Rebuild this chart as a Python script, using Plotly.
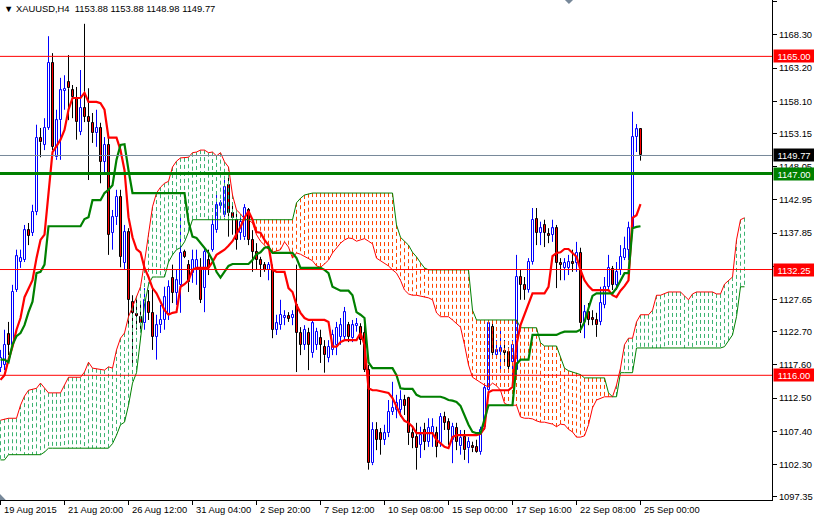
import plotly.graph_objects as go

# ---------------- data ----------------
symbol_text = "XAUUSD,H4"
last_ohlc = [1153.88, 1153.88, 1148.98, 1149.77]

date_labels = ["19 Aug 2015", "21 Aug 20:00", "26 Aug 12:00", "31 Aug 04:00", "2 Sep 20:00",
               "7 Sep 12:00", "10 Sep 08:00", "15 Sep 00:00", "17 Sep 16:00", "22 Sep 08:00",
               "25 Sep 00:00"]
date_label_bars = [0, 16, 32, 48, 64, 80, 96, 112, 128, 144, 160]

price_ticks = [1173.40, 1168.30, 1163.20, 1158.10, 1153.15, 1148.05, 1142.95, 1137.85,
               1132.75, 1127.65, 1122.70, 1117.60, 1112.50, 1107.40, 1102.30, 1097.35]

opens = [1117.1,1117.6,1122.3,1120.7,1129.1,1133.4,1133.7,1138.3,1137.9,1141.1,
         1152.5,1151.4,1154.0,1164.0,1149.5,1155.2,1159.7,1161.1,1159.8,1158.6,
         1153.4,1157.1,1155.7,1154.8,1153.2,1154.0,1148.8,1151.4,1137.9,1140.3,
         1143.4,1133.3,1138.0,1127.3,1125.4,1125.0,1124.0,1127.3,1125.6,1121.9,
         1123.7,1124.5,1125.3,1131.0,1128.7,1129.9,1135.0,1133.0,1131.7,1132.2,
         1132.5,1129.4,1133.7,1135.3,1138.3,1142.0,1140.6,1145.2,1140.9,1139.9,
         1137.9,1137.2,1141.4,1136.8,1135.0,1133.7,1133.0,1132.2,1132.2,1123.0,
         1123.7,1124.8,1125.1,1124.8,1126.8,1122.5,1120.7,1122.5,1119.4,1120.7,
         1121.7,1120.4,1118.7,1119.9,1120.7,1121.9,1121.9,1123.7,1121.7,1123.6,
         1123.4,1122.5,1116.8,1102.5,1107.6,1107.1,1106.1,1107.1,1110.4,1110.7,
         1110.7,1112.2,1112.5,1107.1,1106.5,1105.3,1107.6,1105.8,1107.1,1107.1,
         1105.6,1109.6,1108.8,1106.1,1107.9,1105.1,1106.5,1104.8,1105.1,1105.0,
         1104.2,1108.1,1113.7,1123.4,1119.1,1119.6,1119.8,1119.6,1118.0,1116.8,
         1131.1,1129.9,1129.1,1133.4,1140.0,1137.9,1139.1,1137.7,1137.6,1138.6,
         1133.3,1132.5,1132.5,1133.4,1133.3,1134.8,1124.2,1125.7,1124.8,1124.5,
         1124.2,1126.8,1129.6,1132.3,1129.9,1132.2,1134.0,1135.3,1138.6,1152.6,
         1153.88]
highs = [1119.9,1123.0,1124.2,1129.9,1135.3,1135.3,1139.1,1139.4,1142.2,1154.5,
         1154.0,1155.5,1168.1,1165.5,1156.8,1161.7,1162.1,1165.2,1160.6,1160.3,
         1162.9,1170.0,1160.1,1156.3,1156.8,1154.8,1152.6,1152.6,1141.4,1144.5,
         1144.5,1139.1,1138.6,1128.3,1128.0,1127.1,1129.4,1129.1,1129.6,1125.3,
         1126.8,1129.6,1130.6,1133.0,1132.2,1140.6,1135.3,1133.7,1135.3,1135.3,
         1134.0,1135.7,1135.3,1140.6,1143.7,1142.9,1146.0,1147.1,1142.2,1141.4,
         1140.6,1142.3,1141.7,1138.3,1136.3,1134.2,1133.4,1133.4,1133.0,1125.3,
         1127.6,1126.0,1125.7,1126.0,1133.0,1123.4,1123.7,1123.3,1124.5,1123.3,
         1123.0,1121.4,1121.4,1123.0,1124.2,1124.8,1126.5,1124.2,1124.5,1124.8,
         1124.0,1123.7,1117.6,1108.8,1108.8,1107.9,1108.4,1112.2,1115.0,1113.0,
         1113.7,1113.0,1112.7,1108.1,1108.7,1108.1,1108.7,1109.4,1109.4,1108.1,
         1110.2,1110.4,1109.4,1108.7,1108.7,1107.6,1107.6,1106.5,1105.8,1106.1,
         1108.1,1114.5,1124.5,1124.0,1121.4,1123.0,1121.4,1120.3,1121.4,1134.5,
         1132.2,1131.1,1134.0,1141.7,1141.7,1139.6,1139.9,1138.6,1139.9,1139.1,
         1134.0,1134.0,1134.5,1135.3,1136.5,1135.6,1126.8,1127.1,1126.0,1125.6,
         1129.6,1131.1,1134.5,1132.8,1133.4,1136.0,1137.3,1139.6,1156.5,1154.6,
         1153.88]
lows = [1116.5,1116.8,1119.1,1120.2,1128.8,1132.5,1133.4,1136.0,1137.4,1140.6,
        1149.5,1150.6,1153.7,1150.6,1149.1,1149.1,1156.8,1155.2,1155.5,1152.2,
        1152.9,1154.9,1146.0,1151.7,1151.1,1145.5,1146.8,1134.5,1135.3,1139.1,
        1132.6,1132.2,1123.7,1117.9,1123.0,1123.0,1123.0,1124.5,1119.9,1118.4,
        1122.5,1123.0,1124.5,1127.1,1126.8,1125.6,1134.0,1128.8,1130.2,1129.9,
        1127.1,1125.7,1131.4,1135.0,1137.9,1141.1,1140.3,1137.3,1137.6,1135.3,
        1136.8,1136.8,1136.0,1131.9,1132.2,1131.1,1131.9,1130.6,1121.7,1122.2,
        1123.0,1123.7,1124.2,1123.7,1116.5,1119.1,1119.9,1116.8,1118.7,1119.9,
        1117.9,1116.4,1118.0,1119.1,1119.1,1120.7,1121.4,1121.1,1121.1,1122.7,
        1120.7,1116.5,1101.5,1102.2,1104.5,1103.8,1105.3,1106.5,1109.9,1109.4,
        1109.6,1109.9,1105.3,1104.8,1101.5,1103.3,1104.5,1105.0,1105.0,1103.4,
        1105.0,1107.6,1105.3,1102.5,1104.5,1103.8,1103.0,1102.5,1104.2,1104.1,
        1103.8,1107.6,1113.4,1118.8,1118.7,1116.4,1117.9,1116.4,1115.7,1116.0,
        1127.6,1127.6,1128.7,1133.0,1136.0,1136.0,1135.7,1136.3,1136.5,1129.4,
        1130.6,1130.6,1131.4,1131.9,1131.9,1122.5,1121.7,1123.7,1123.7,1121.9,
        1123.7,1126.3,1129.1,1129.1,1129.1,1131.4,1133.7,1133.7,1138.3,1150.3,
        1148.98]
closes = [1118.7,1120.7,1120.7,1128.8,1134.3,1134.0,1138.3,1137.4,1141.1,1152.5,
          1151.8,1154.0,1164.0,1151.1,1155.2,1159.8,1160.0,1160.1,1158.8,1154.9,
          1157.1,1155.7,1154.9,1153.2,1154.0,1148.8,1151.4,1137.6,1140.3,1143.4,
          1134.2,1138.0,1127.6,1125.6,1125.1,1124.0,1127.6,1125.6,1121.9,1123.7,
          1124.5,1128.0,1129.6,1128.7,1130.6,1134.8,1134.2,1130.3,1133.7,1133.7,
          1127.6,1135.0,1132.5,1139.1,1142.2,1142.5,1144.9,1140.9,1140.2,1136.8,
          1139.6,1141.7,1136.8,1135.0,1133.7,1133.0,1132.2,1133.0,1123.0,1124.0,
          1125.3,1125.1,1124.7,1125.3,1122.5,1120.7,1123.0,1120.7,1124.0,1122.7,
          1120.7,1119.1,1120.4,1122.2,1123.3,1123.7,1125.7,1121.9,1123.7,1123.9,
          1121.4,1116.8,1102.5,1107.6,1106.1,1106.1,1107.1,1110.4,1111.0,1111.7,
          1112.2,1111.3,1107.1,1106.4,1104.8,1106.8,1105.8,1107.9,1108.1,1105.0,
          1109.6,1108.7,1107.6,1108.1,1105.8,1106.4,1104.5,1105.8,1104.8,1104.2,
          1107.6,1114.0,1124.0,1119.4,1119.9,1120.2,1119.5,1117.3,1120.7,1131.1,
          1129.9,1129.1,1133.4,1139.9,1137.9,1138.6,1137.9,1137.4,1138.6,1133.3,
          1133.0,1133.3,1133.4,1133.1,1134.8,1124.0,1125.7,1124.5,1124.5,1123.7,
          1127.1,1129.6,1132.5,1129.9,1131.9,1134.2,1135.4,1138.6,1152.6,1153.8,
          1149.77]

tenkan = [1115.3,1116.0,1118.4,1120.4,1123.0,1124.8,1128.0,1129.4,1130.6,1134.0,
          1136.8,1137.6,1143.7,1150.3,1151.2,1152.2,1153.7,1156.8,1158.6,1158.6,
          1158.6,1159.4,1158.0,1158.0,1158.0,1157.8,1156.8,1152.5,1152.5,1152.5,
          1150.6,1147.5,1140.3,1137.2,1135.4,1134.9,1132.5,1131.1,1129.4,1128.6,
          1127.3,1126.0,1125.3,1125.6,1125.7,1129.6,1130.0,1130.6,1132.2,1132.5,
          1132.5,1132.5,1132.5,1133.4,1134.5,1134.9,1135.3,1135.9,1136.6,1137.7,
          1138.8,1140.2,1141.2,1139.9,1138.0,1137.9,1136.8,1136.0,1132.2,1131.9,
          1131.9,1131.9,1129.4,1128.8,1126.8,1125.6,1124.8,1124.5,1124.5,1124.5,
          1124.5,1124.5,1124.2,1120.4,1120.4,1121.1,1121.4,1121.4,1121.4,1121.4,
          1122.5,1120.7,1114.0,1113.7,1113.7,1113.6,1113.4,1113.3,1112.5,1111.1,
          1109.9,1109.0,1108.7,1108.1,1107.1,1107.1,1107.1,1107.1,1107.1,1106.1,
          1105.6,1105.0,1104.8,1106.5,1106.8,1106.8,1106.8,1106.8,1106.8,1106.8,
          1107.0,1107.9,1113.4,1113.7,1113.7,1113.7,1113.7,1113.7,1114.2,1120.7,
          1123.7,1125.3,1126.8,1128.6,1128.6,1128.6,1128.6,1129.6,1134.3,1134.8,
          1134.9,1135.4,1135.4,1134.8,1134.2,1132.2,1130.6,1129.7,1129.1,1129.1,
          1129.1,1129.1,1129.1,1128.3,1128.0,1129.0,1129.7,1130.6,1140.2,1140.6,
          1142.3]
kijun = [1118.4,1118.4,1118.0,1120.7,1122.0,1122.5,1123.7,1125.7,1127.3,1131.7,
         1131.9,1133.0,1138.9,1138.9,1138.9,1138.9,1138.9,1138.9,1138.9,1138.9,
         1138.9,1140.0,1140.3,1142.9,1142.9,1142.9,1144.0,1144.5,1145.2,1149.1,
         1151.4,1151.5,1147.5,1144.0,1144.0,1144.0,1144.0,1144.0,1144.0,1144.0,
         1144.0,1144.0,1144.0,1144.0,1144.0,1144.0,1144.0,1139.6,1137.3,1137.1,
         1136.3,1135.6,1134.8,1133.7,1131.9,1131.0,1132.0,1132.8,1133.1,1133.1,
         1133.1,1133.1,1133.1,1133.7,1134.6,1134.9,1135.6,1135.7,1134.8,1134.8,
         1134.8,1134.8,1134.8,1134.8,1134.0,1132.5,1132.5,1132.5,1132.5,1132.5,
         1132.5,1132.2,1131.7,1129.6,1129.3,1129.0,1129.0,1129.0,1128.3,1125.7,
         1125.3,1124.8,1118.0,1117.1,1117.1,1117.1,1117.1,1117.1,1117.1,1116.0,
         1114.0,1113.9,1113.9,1113.9,1113.0,1112.7,1112.7,1112.7,1112.7,1112.7,
         1112.7,1112.5,1112.2,1112.1,1111.9,1111.3,1109.9,1108.4,1107.3,1107.1,
         1107.1,1109.4,1111.4,1111.4,1111.4,1111.4,1111.4,1111.4,1111.4,1117.7,
         1118.4,1118.4,1118.4,1122.2,1122.2,1122.2,1122.2,1122.2,1122.2,1122.2,
         1122.5,1122.7,1122.7,1122.7,1122.7,1123.0,1124.2,1126.3,1128.2,1128.6,
         1128.6,1128.6,1128.6,1128.6,1129.4,1130.6,1131.7,1131.7,1138.6,1138.8,
         1138.9]
span_a = [1109.1,1109.3,1109.4,1109.4,1109.4,1111.4,1112.8,1113.7,1113.9,1114.0,
          1114.8,1114.0,1113.3,1113.3,1113.3,1113.3,1114.5,1115.7,1115.7,1115.7,
          1115.7,1116.5,1118.0,1117.1,1117.0,1116.8,1116.8,1117.3,1117.1,1119.9,
          1121.7,1122.5,1125.0,1126.5,1128.2,1129.6,1133.4,1137.9,1141.9,1144.0,
          1144.9,1145.5,1145.8,1148.0,1148.9,1149.4,1149.4,1149.5,1150.2,1150.3,
          1150.6,1150.6,1150.2,1150.3,1149.7,1150.2,1148.8,1148.0,1143.7,1141.4,
          1140.8,1140.0,1139.9,1139.4,1137.6,1136.6,1136.0,1135.3,1134.9,1135.1,
          1135.3,1136.5,1135.7,1134.0,1134.8,1134.6,1134.3,1133.9,1133.6,1132.8,
          1132.6,1133.1,1133.7,1134.8,1135.6,1136.3,1136.8,1137.1,1137.0,1136.6,
          1136.8,1137.0,1136.6,1136.2,1134.0,1133.6,1133.3,1132.8,1132.2,1131.7,
          1130.6,1129.1,1128.5,1128.3,1128.3,1128.2,1128.0,1127.9,1127.6,1125.6,
          1125.0,1125.0,1125.0,1124.5,1124.0,1123.4,1120.7,1117.6,1115.7,1115.3,
          1114.8,1114.5,1114.2,1114.8,1114.4,1113.7,1111.7,1111.4,1111.4,1111.4,
          1109.6,1109.4,1109.4,1109.3,1109.0,1108.8,1108.8,1108.7,1108.5,1108.1,
          1108.5,1108.4,1107.7,1107.3,1106.5,1106.5,1106.7,1108.4,1111.0,1112.2,
          1112.5,1112.7,1112.7,1112.7,1114.5,1117.1,1120.7,1121.7,1121.7,1124.2,
          1125.3,1125.3,1125.3,1126.0,1128.3,1128.3,1128.6,1128.8,1128.8,1128.8,
          1128.8,1128.2,1127.6,1128.5,1128.8,1128.8,1128.8,1128.8,1128.8,1128.5,
          1128.5,1130.0,1130.6,1131.1,1136.8,1139.9,1140.2]
span_b = [1103.0,1103.0,1103.8,1103.8,1103.8,1103.8,1103.8,1103.8,1103.8,1103.8,
          1103.8,1104.2,1104.8,1104.8,1104.8,1104.8,1104.8,1104.8,1104.8,1104.8,
          1104.8,1104.8,1104.8,1104.8,1104.8,1104.8,1104.8,1104.8,1105.5,1106.8,
          1108.4,1108.8,1111.4,1114.8,1116.4,1121.4,1126.8,1129.9,1131.1,1131.1,
          1131.1,1131.1,1133.4,1134.5,1135.3,1135.6,1136.5,1138.0,1139.9,1139.9,
          1139.9,1139.9,1139.9,1139.9,1139.9,1139.9,1139.9,1139.9,1139.9,1139.9,
          1139.9,1139.9,1139.9,1139.9,1139.9,1139.9,1139.9,1139.9,1139.9,1139.9,
          1139.9,1139.9,1139.9,1139.9,1142.5,1143.2,1143.7,1143.9,1144.0,1144.0,
          1144.0,1144.0,1144.0,1144.0,1144.0,1144.0,1144.0,1144.0,1144.0,1144.0,
          1144.0,1144.0,1144.0,1144.0,1144.0,1144.0,1144.0,1144.0,1144.0,1139.1,
          1137.2,1136.6,1136.0,1134.9,1134.2,1133.3,1132.5,1132.2,1132.2,1132.2,
          1132.2,1132.2,1132.2,1132.2,1132.2,1132.2,1132.2,1132.2,1126.0,1124.5,
          1124.5,1124.5,1124.5,1124.5,1124.5,1124.5,1124.5,1124.5,1124.5,1124.5,
          1123.3,1123.3,1123.3,1123.3,1123.3,1121.0,1120.5,1120.5,1120.5,1120.5,
          1118.8,1117.1,1116.7,1116.5,1116.4,1116.1,1115.6,1115.6,1115.6,1115.6,
          1115.6,1115.6,1113.3,1112.7,1112.7,1116.4,1116.4,1116.4,1116.4,1120.2,
          1120.2,1120.2,1120.2,1120.2,1120.2,1120.2,1120.2,1120.2,1120.2,1120.2,
          1120.2,1120.2,1120.2,1120.2,1120.2,1120.2,1120.2,1120.2,1120.2,1120.2,
          1120.2,1120.4,1121.4,1122.2,1125.0,1129.6,1129.6]

red_levels = [1165.00, 1132.25, 1116.00]
green_level = 1147.00
bid_level = last_ohlc[3]

# ---------------- style ----------------
FONT = "Liberation Sans, Arial, sans-serif"
FS = 9.4
RED = "#FF0000"
GREEN = "#008000"
BLUE = "#0000FF"
HATCH_GREEN = "#3CB371"
HATCH_ORANGE = "#FF4500"

bars = list(range(len(closes)))
cloud_bars = list(range(len(span_a)))

fig = go.Figure()

# candle bodies (bars from open to close) and wicks
body_base, body_len, body_fill, body_edge = [], [], [], []
up_wx, up_wy, dn_wx, dn_wy = [], [], [], []
for i, o, h, l, c in zip(bars, opens, highs, lows, closes):
    lo_b, hi_b = min(o, c), max(o, c)
    body_base.append(lo_b)
    body_len.append(max(hi_b - lo_b, 0.02))
    up = c >= o
    body_fill.append("#FFFFFF" if up else RED)
    body_edge.append(BLUE if up else "#000000")
    seg_x = [i, i, None, i, i, None]
    seg_y = [h, hi_b, None, lo_b, l, None]
    if up:
        up_wx += seg_x; up_wy += seg_y
    else:
        dn_wx += seg_x; dn_wy += seg_y

fig.add_trace(go.Bar(x=bars, y=body_len, base=body_base, width=0.5,
                     marker=dict(color=body_fill, line=dict(color=body_edge, width=1)),
                     hoverinfo="skip", showlegend=False))
fig.add_trace(go.Scatter(x=up_wx, y=up_wy, mode="lines", line=dict(color=BLUE, width=1),
                         hoverinfo="skip", showlegend=False))
fig.add_trace(go.Scatter(x=dn_wx, y=dn_wy, mode="lines", line=dict(color="#000000", width=1),
                         hoverinfo="skip", showlegend=False))

# cloud hatch (vertical dotted columns between span A and span B)
gx, gy, ox, oy = [], [], [], []
for i, a, b in zip(cloud_bars, span_a, span_b):
    if a >= b:
        gx += [i, i, None]; gy += [a, b, None]
    else:
        ox += [i, i, None]; oy += [b, a, None]
fig.add_trace(go.Scatter(x=gx, y=gy, mode="lines", line=dict(color=HATCH_GREEN, width=1, dash="4px,3px"),
                         hoverinfo="skip", showlegend=False))
fig.add_trace(go.Scatter(x=ox, y=oy, mode="lines", line=dict(color=HATCH_ORANGE, width=1, dash="4px,3px"),
                         hoverinfo="skip", showlegend=False))

fig.add_trace(go.Scatter(x=cloud_bars, y=span_a, mode="lines", line=dict(color=RED, width=1),
                         hoverinfo="skip", showlegend=False))
fig.add_trace(go.Scatter(x=cloud_bars, y=span_b, mode="lines", line=dict(color=GREEN, width=1),
                         hoverinfo="skip", showlegend=False))
fig.add_trace(go.Scatter(x=bars, y=tenkan, mode="lines", line=dict(color=RED, width=2.2),
                         hoverinfo="skip", showlegend=False))
fig.add_trace(go.Scatter(x=bars, y=kijun, mode="lines", line=dict(color=GREEN, width=2.2),
                         hoverinfo="skip", showlegend=False))

shapes = []
for lv in red_levels:
    shapes.append(dict(type="line", xref="paper", x0=0, x1=1, yref="y", y0=lv, y1=lv,
                       line=dict(color=RED, width=1)))
shapes.append(dict(type="line", xref="paper", x0=0, x1=1, yref="y", y0=bid_level, y1=bid_level,
                   line=dict(color="#778899", width=1)))
shapes.append(dict(type="line", xref="paper", x0=0, x1=1, yref="y", y0=green_level, y1=green_level,
                   line=dict(color=GREEN, width=3)))
# small chart-shift markers
shapes.append(dict(type="path", xref="paper", yref="paper",
                   path="M 0.7318,1 L 0.7422,1 L 0.737,0.992 Z",
                   fillcolor="#778899", line=dict(width=0)))
shapes.append(dict(type="path", xref="paper", yref="paper",
                   path="M 0,0 L 0.0075,0 L 0,0.012 Z",
                   fillcolor="#778899", line=dict(width=0)))

annotations = []
annotations.append(dict(xref="paper", yref="paper", x=0, y=1, xanchor="left", yanchor="top",
                        xshift=2, yshift=-1, showarrow=False, align="left",
                        text="\u25BC " + symbol_text + "\u00a0\u00a0" + " ".join(f"{v:.2f}" for v in last_ohlc),
                        font=dict(family=FONT, size=FS, color="#000000")))
for b, lab in zip(date_label_bars, date_labels):
    annotations.append(dict(xref="x", yref="paper", x=b, y=0, xanchor="left", yanchor="top",
                            xshift=1, yshift=-2, showarrow=False, text=lab,
                            font=dict(family=FONT, size=FS, color="#000000")))


def price_box(val, bg):
    return dict(xref="paper", yref="y", x=1, y=val, xanchor="left", yanchor="middle",
                xshift=1, showarrow=False, text=f"{val:.2f}", bgcolor=bg, borderpad=0,
                width=40, height=12, align="center",
                font=dict(family=FONT, size=FS, color="#FFFFFF"))


for lv in red_levels:
    annotations.append(price_box(lv, RED))
annotations.append(price_box(green_level, GREEN))
annotations.append(price_box(bid_level, "#000000"))

fig.update_layout(
    width=814, height=516,
    margin=dict(l=0, r=42, t=0, b=16, autoexpand=False),
    paper_bgcolor="#FFFFFF", plot_bgcolor="#FFFFFF",
    showlegend=False, bargap=0,
    shapes=shapes, annotations=annotations,
    xaxis=dict(range=[-0.125, 192.875], showgrid=False, zeroline=False, automargin=False,
               showline=True, linecolor="#000000", linewidth=1,
               ticks="outside", ticklen=4, tickcolor="#000000",
               tickvals=date_label_bars, showticklabels=False, fixedrange=True),
    yaxis=dict(range=[1096.84, 1173.66], side="right", showgrid=False, zeroline=False, automargin=False,
               showline=True, linecolor="#000000", linewidth=1,
               ticks="outside", ticklen=4, tickcolor="#000000",
               tickvals=price_ticks, ticktext=[f"{v:.2f}" for v in price_ticks],
               tickfont=dict(family=FONT, size=FS, color="#000000"), fixedrange=True),
)

fig.write_html("out.html", config={"displayModeBar": False},
               post_script="document.body.style.margin='0';document.body.style.overflow='hidden';")
